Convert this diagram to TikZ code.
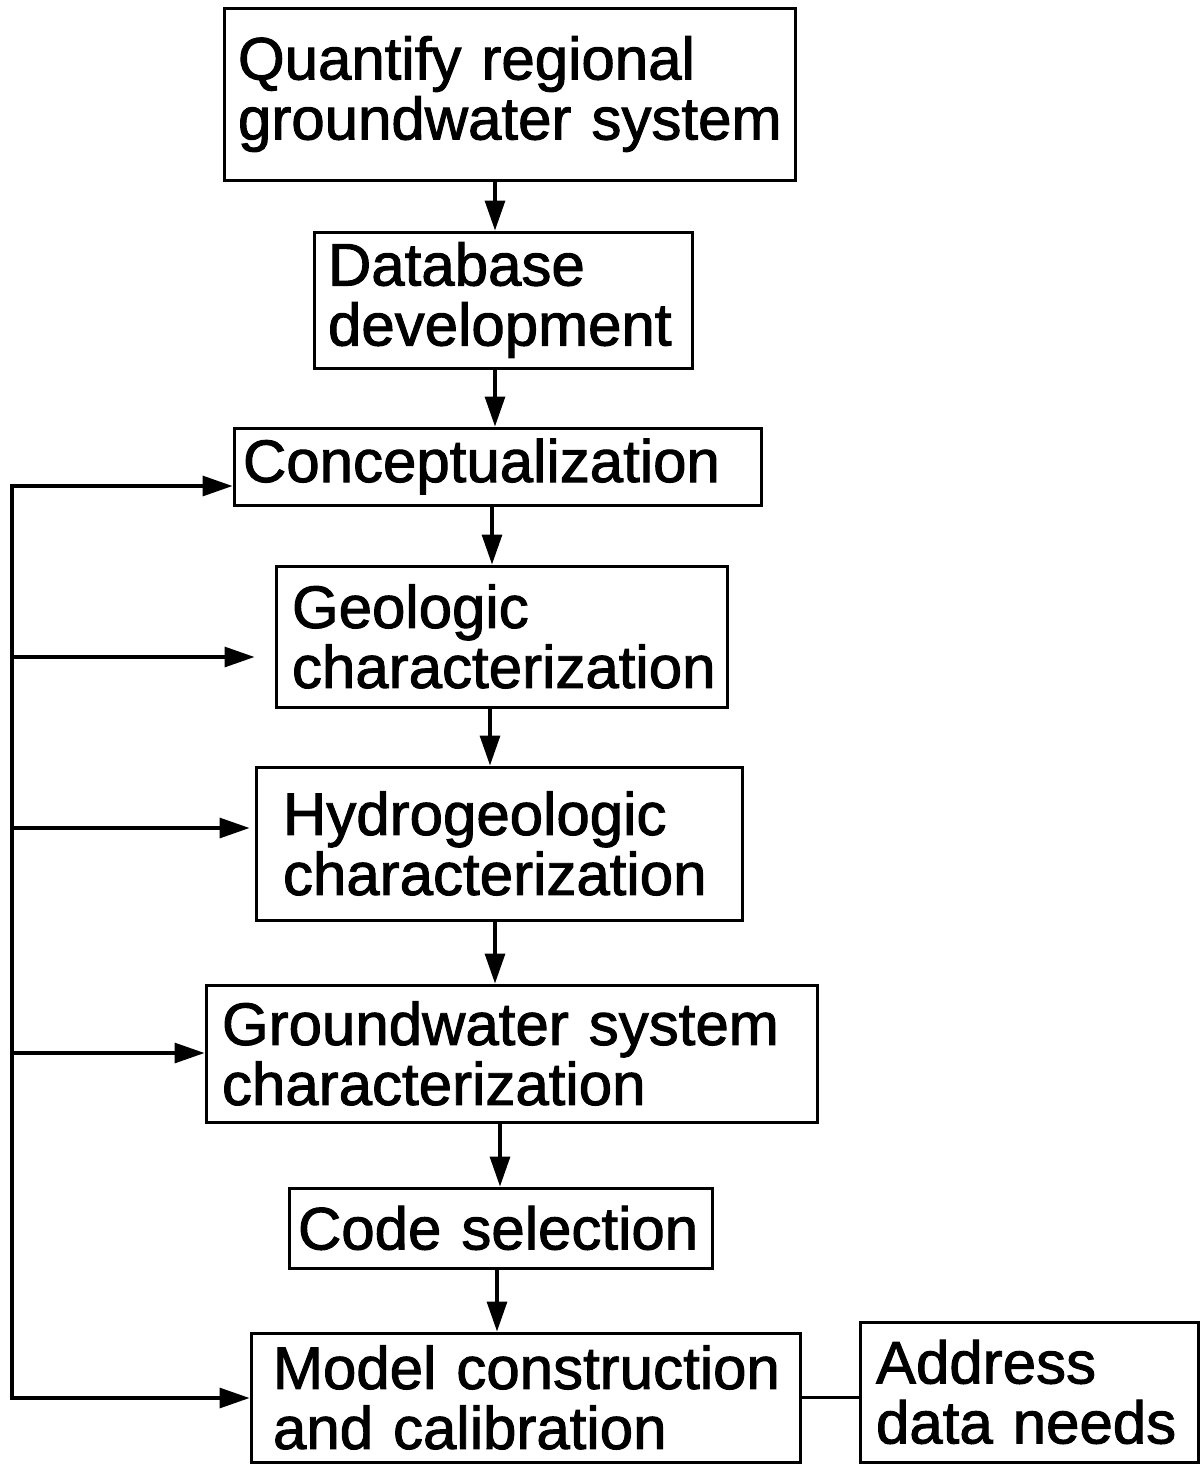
\documentclass[tikz,border=0pt]{standalone}
\usepackage{fontspec}
\setmainfont[FakeBold=1.6,AutoFakeBold=1.6,WordSpace=0.8]{Liberation Sans}
\usetikzlibrary{arrows.meta}
\newcommand\Ln[1]{\mbox{#1}}
\tikzset{
  box/.style={draw, line width=3pt, inner xsep=#1, inner ysep=0pt, align=left,
    font=\fontsize{60}{60}\selectfont\bfseries},
  arr/.style={line width=3.2pt, -{Triangle[length=30pt,width=20pt]}},
  ln/.style={line width=3.2pt},
}
\begin{document}
\begin{tikzpicture}[x=1pt,y=-1pt]
\useasboundingbox (0,0) rectangle (1202,1465);
\node[box=14pt, minimum width=571pt, minimum height=172pt, text width=543pt] (q) at (509.5,94) {\Ln{Quantify regional}\\\Ln{groundwater system}};
\node[box=14pt, minimum width=378pt, minimum height=136pt, text width=350pt] (db) at (503,300) {\Ln{Database}\\\Ln{development}};
\node[box=9pt, minimum width=527pt, minimum height=77pt, text width=509pt] (con) at (497.5,466.5) {\Ln{Conceptualization}};
\node[box=16pt, minimum width=451pt, minimum height=141pt, text width=419pt] (geo) at (501.5,636.5) {\Ln{Geologic}\\\Ln{characterization}};
\node[box=27pt, minimum width=486pt, minimum height=153pt, text width=432pt] (hyd) at (499,843.5) {\Ln{Hydrogeologic}\\\Ln{characterization}};
\node[box=16pt, minimum width=611pt, minimum height=137pt, text width=579pt] (gw) at (511.5,1053.5) {\Ln{Groundwater system}\\\Ln{characterization}};
\node[box=9pt, minimum width=423pt, minimum height=80pt, text width=405pt] (code) at (500.5,1228) {\Ln{Code selection}};
\node[box=22pt, minimum width=549pt, minimum height=129pt, text width=505pt] (mod) at (525.5,1397.5) {\Ln{Model construction}\\\Ln{and calibration}};
\node[box=16pt, minimum width=338pt, minimum height=140pt, text width=306pt] (addr) at (1029,1392) {\Ln{Address}\\\Ln{data needs}};
% columns for the vertical arrows
\coordinate (c1) at (495,0);
\coordinate (c2) at (495,0);
\coordinate (c3) at (492,0);
\coordinate (c4) at (490,0);
\coordinate (c5) at (495,0);
\coordinate (c6) at (500,0);
\coordinate (c7) at (497,0);
\draw[arr] (q.south -| c1) -- (db.north -| c1);
\draw[arr] (db.south -| c2) -- (con.north -| c2);
\draw[arr] (con.south -| c3) -- (geo.north -| c3);
\draw[arr] (geo.south -| c4) -- (hyd.north -| c4);
\draw[arr] (hyd.south -| c5) -- (gw.north -| c5);
\draw[arr] (gw.south -| c6) -- (code.north -| c6);
\draw[arr] (code.south -| c7) -- (mod.north -| c7);
% feedback bus
\coordinate (b1) at (12,486);
\coordinate (b2) at (12,657);
\coordinate (b3) at (12,828);
\coordinate (b4) at (12,1053);
\coordinate (b5) at (12,1398);
\draw[ln, line join=miter] (b1) ++(20,0) -- (b1) -- (b5) -- ++(20,0);
\draw[arr] (b1) -- (b1 -| con.west);
\draw[arr, shorten >=20pt] (b2) -- (b2 -| geo.west);
\draw[arr, shorten >=5pt] (b3) -- (b3 -| hyd.west);
\draw[arr] (b4) -- (b4 -| gw.west);
\draw[arr] (b5) -- (b5 -| mod.west);
% link to address data needs
\draw[ln] (mod.east) -- (mod.east -| addr.west);
\end{tikzpicture}
\end{document}
